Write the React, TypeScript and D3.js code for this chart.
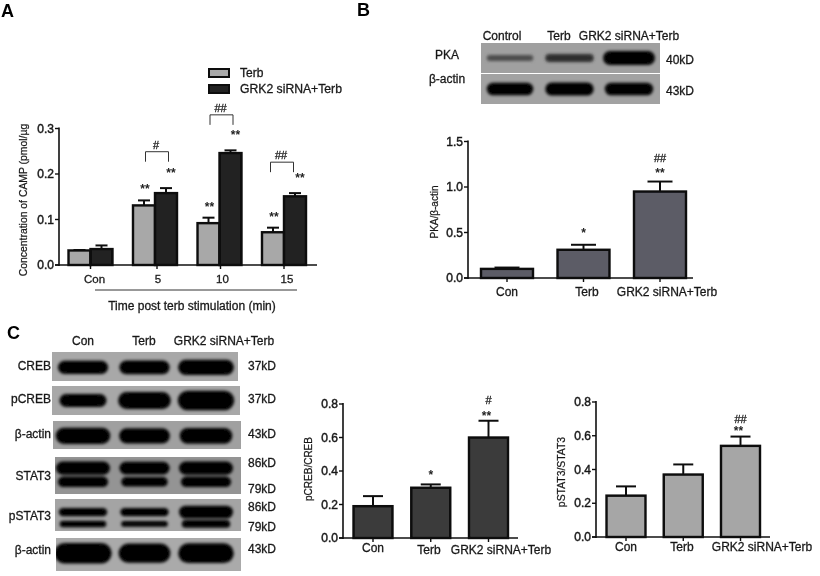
import React from "react";
import * as d3 from "d3";

const FONT = "'Liberation Sans', Arial, sans-serif";

// Panel A
const timeGroups = ["Con", "5", "10", "15"];
const terbValues = [0.032, 0.131, 0.092, 0.072];
const terbErrors = [0.001, 0.011, 0.012, 0.01];
const grkValues = [0.035, 0.158, 0.246, 0.151];
const grkErrors = [0.008, 0.011, 0.006, 0.007];
const ticksA = [0, 0.1, 0.2, 0.3];
const bracketValuesA = [0.249, 0.33, 0.226];
const bracketMarksA = ["#", "##", "##"];

// Panel B
const groupsB = ["Con", "Terb", "GRK2 siRNA+Terb"];
const pkaValues = [0.1, 0.31, 0.95];
const pkaErrors = [0.015, 0.055, 0.11];
const ticksB = [0, 0.5, 1, 1.5];

// Panel C
const pcrebValues = [0.19, 0.3, 0.6];
const pcrebErrors = [0.06, 0.02, 0.1];
const pstatValues = [0.245, 0.37, 0.54];
const pstatErrors = [0.055, 0.06, 0.055];
const ticksC = [0, 0.2, 0.4, 0.6, 0.8];

// Band densities per lane (0 = faint, 1 = black), thickness in relative units
const pkaBand = [0.45, 0.7, 1];
const pkaThick = [0.2, 0.26, 0.46];
const actinB = [1, 1, 1];
const actinBThick = [0.42, 0.44, 0.42];

const bgA = "#a2a2a2";

type Row = { at: number; dark: number[]; thick: number[]; wide: number[] };
const blotsC: { label: string; kd: string[]; bg: string; rows: Row[] }[] = [
  { label: "CREB", kd: ["37kD"], bg: "#a8a8a8", rows: [{ at: 0.53, dark: [1, 1, 1], thick: [0.46, 0.48, 0.52], wide: [0.27, 0.27, 0.3] }] },
  { label: "pCREB", kd: ["37kD"], bg: "#a8a8a8", rows: [{ at: 0.5, dark: [1, 1, 1], thick: [0.44, 0.58, 0.68], wide: [0.25, 0.28, 0.3] }] },
  { label: "β-actin", kd: ["43kD"], bg: "#a0a0a0", rows: [{ at: 0.53, dark: [1, 1, 1], thick: [0.58, 0.54, 0.56], wide: [0.29, 0.27, 0.28] }] },
  {
    label: "STAT3", kd: ["86kD", "79kD"], bg: "#949494", rows: [
      { at: 0.3, dark: [1, 1, 1], thick: [0.36, 0.34, 0.36], wide: [0.29, 0.27, 0.29] },
      { at: 0.67, dark: [1, 1, 1], thick: [0.28, 0.26, 0.28], wide: [0.27, 0.25, 0.27] },
    ],
  },
  {
    label: "pSTAT3", kd: ["86kD", "79kD"], bg: "#a4a4a4", rows: [
      { at: 0.41, dark: [1, 1, 1], thick: [0.26, 0.26, 0.4], wide: [0.26, 0.26, 0.29] },
      { at: 0.78, dark: [1, 1, 1], thick: [0.2, 0.18, 0.24], wide: [0.25, 0.25, 0.26] },
    ],
  },
  { label: "β-actin", kd: ["43kD"], bg: "#aaaaaa", rows: [{ at: 0.46, dark: [1, 1, 1], thick: [0.62, 0.58, 0.6], wide: [0.31, 0.28, 0.3] }] },
];

const bandColor = d3.scaleLinear<string>().domain([0, 1]).range(["#8a8a8a", "#050505"]);

function Blot({ x, y, w, h, bg, rows, lanes, id }: { x: number; y: number; w: number; h: number; bg: string; rows: Row[]; lanes: number[]; id: string }) {
  return (
    <g>
      <clipPath id={id}><rect x={x} y={y} width={w} height={h} /></clipPath>
      <rect x={x} y={y} width={w} height={h} fill={bg} />
      <g clipPath={`url(#${id})`}>
        <g filter="url(#bandBlur)">
          {rows.map((r, ri) =>
            lanes.map((cx, li) => {
              const bw = r.wide[li] * w;
              const bh = r.thick[li] * h;
              return (
                <rect key={`${ri}-${li}`} x={cx - bw / 2} y={y + r.at * h - bh / 2} width={bw} height={bh} rx={bh / 2} fill={bandColor(r.dark[li])} />
              );
            })
          )}
        </g>
      </g>
    </g>
  );
}

function Axes({ x0, x1, y, ticks, fmt, tickXs }: { x0: number; x1: number; y: d3.ScaleLinear<number, number>; ticks: number[]; fmt: (v: number) => string; tickXs: number[] }) {
  const base = y(0);
  return (
    <g>
      <line x1={x0} x2={x0} y1={y(ticks[ticks.length - 1]) - 1} y2={base + 1} stroke="#111" strokeWidth={1.6} />
      <line x1={x0 - 4} x2={x1} y1={base} y2={base} stroke="#111" strokeWidth={1.6} />
      {ticks.map((t) => (
        <g key={t}>
          <line x1={x0 - 4} x2={x0} y1={y(t)} y2={y(t)} stroke="#111" strokeWidth={1.4} />
          <text x={x0 - 5} y={y(t) + 4} textAnchor="end" fontSize={12} fill="#1a1a1a" stroke="#1a1a1a" strokeWidth={0.45}>{fmt(t)}</text>
        </g>
      ))}
      {tickXs.map((t) => (
        <line key={t} x1={t} x2={t} y1={base} y2={base + 4} stroke="#111" strokeWidth={1.4} />
      ))}
    </g>
  );
}

function Bar({ cx, w, y, value, err, fill, cap }: { cx: number; w: number; y: d3.ScaleLinear<number, number>; value: number; err: number; fill: string; cap: number }) {
  return (
    <g>
      <line x1={cx} x2={cx} y1={y(value)} y2={y(value + err)} stroke="#111" strokeWidth={2} />
      <line x1={cx - cap / 2} x2={cx + cap / 2} y1={y(value + err)} y2={y(value + err)} stroke="#111" strokeWidth={2} />
      <rect x={cx - w / 2} y={y(value)} width={w} height={y(0) - y(value)} fill={fill} stroke="#0a0a0a" strokeWidth={2.4} />
    </g>
  );
}

function Mark({ x, y, t, size = 12 }: { x: number; y: number; t: string; size?: number }) {
  return <text x={x} y={y} textAnchor="middle" fontSize={size} fontWeight={700} fill="#222">{t}</text>;
}

function Hash({ x, y, t }: { x: number; y: number; t: string }) {
  return <text x={x} y={y} textAnchor="middle" fontSize={11} fill="#222" stroke="#222" strokeWidth={0.3}>{t}</text>;
}

function Lbl({ x, y, t, size = 12, anchor = "middle" }: { x: number; y: number; t: string; size?: number; anchor?: string }) {
  return <text x={x} y={y} textAnchor={anchor as any} fontSize={size} fill="#1a1a1a" stroke="#1a1a1a" strokeWidth={0.3}>{t}</text>;
}

function YLabel({ x, y, t, size = 10 }: { x: number; y: number; t: string; size?: number }) {
  return <text transform={`translate(${x},${y}) rotate(-90)`} textAnchor="middle" fontSize={size} fill="#1a1a1a" stroke="#1a1a1a" strokeWidth={0.25}>{t}</text>;
}

export default function App() {
  const yA = d3.scaleLinear().domain([0, 0.3]).range([265, 128.5]);
  const xA = d3.scaleLinear().domain([0, 3]).range([90.5, 284]);
  const yB = d3.scaleLinear().domain([0, 1.5]).range([278, 141.5]);
  const xB = d3.scaleLinear().domain([0, 2]).range([507, 660]);
  const yC1 = d3.scaleLinear().domain([0, 0.8]).range([538, 404]);
  const xC1 = d3.scaleLinear().domain([0, 2]).range([373, 488.5]);
  const yC2 = d3.scaleLinear().domain([0, 0.8]).range([537, 402]);
  const xC2 = d3.scaleLinear().domain([0, 2]).range([626, 740.5]);

  const lanesC = d3.scaleLinear().domain([0, 2]).range([83, 206]);
  const lanesB = d3.scaleLinear().domain([0, 2]).range([510, 629]);
  const laneIdx = [0, 1, 2];

  const frames = [
    { x: 52, y: 352, w: 186, h: 29 },
    { x: 52, y: 386, w: 188, h: 29 },
    { x: 53, y: 421, w: 188, h: 28 },
    { x: 55, y: 457, w: 186, h: 37 },
    { x: 55, y: 499, w: 186, h: 32 },
    { x: 56, y: 538, w: 185, h: 33 },
  ];
  const labelYs = [370, 403, 438, 480, 520, 554];
  const kdYs = [[370], [403], [438], [467, 493], [511, 531], [553]];

  return (
    <svg width={820} height={576} style={{ position: "absolute", left: 0, top: 0, background: "#fff" }} fontFamily={FONT}>
      <defs>
        <filter id="bandBlur" x="-20%" y="-60%" width="140%" height="220%"><feGaussianBlur stdDeviation={1.5} /></filter>
        <filter id="soft" x="-2%" y="-2%" width="104%" height="104%"><feGaussianBlur stdDeviation={0.4} /></filter>
      </defs>
      <g filter="url(#soft)">
        <text x={1} y={17} fontSize={18} fontWeight={700} fill="#000">A</text>
        <text x={357} y={16} fontSize={18} fontWeight={700} fill="#000">B</text>
        <text x={7} y={339} fontSize={18} fontWeight={700} fill="#000">C</text>

        {/* Panel A */}
        <rect x={209} y={69} width={20} height={8} fill="#a8a8a8" stroke="#0a0a0a" strokeWidth={2} />
        <rect x={209} y={85} width={20} height={8} fill="#222" stroke="#0a0a0a" strokeWidth={2} />
        <Lbl x={240} y={77} t="Terb" anchor="start" />
        <Lbl x={240} y={93} t="GRK2 siRNA+Terb" anchor="start" size={12.2} />
        <Axes x0={59} x1={317} y={yA} ticks={ticksA} fmt={(v) => v.toFixed(1)} tickXs={timeGroups.map((_, i) => xA(i) + (i === 0 ? 0 : 3 - i))} />
        {timeGroups.map((g, i) => (
          <g key={g}>
            <Bar cx={xA(i) - 11} w={22} y={yA} value={terbValues[i]} err={terbErrors[i]} fill="#a8a8a8" cap={12} />
            <Bar cx={xA(i) + 11} w={22} y={yA} value={grkValues[i]} err={grkErrors[i]} fill="#222" cap={12} />
            {i > 0 && <Mark x={xA(i) - 10} y={yA(terbValues[i] + terbErrors[i]) - 7} t="**" />}
            {i > 0 && <Mark x={xA(i) + 16} y={yA(grkValues[i] + grkErrors[i]) - 11} t="**" />}
            <Lbl x={xA(i) + (i === 0 ? 4 : 3)} y={283} t={g} size={11.5} />
          </g>
        ))}
        {bracketValuesA.map((v, i) => {
          const c = xA(i + 1) + (i === 2 ? -2 : 2);
          const top = yA(v);
          return (
            <g key={i}>
              <path d={`M${c - 11.5},${top + 10} V${top} H${c + 11.5} V${top + 10}`} fill="none" stroke="#333" strokeWidth={1} />
              <Hash x={c - 1} y={top - 3} t={bracketMarksA[i]} />
            </g>
          );
        })}
        <line x1={95} x2={297} y1={290} y2={290} stroke="#333" strokeWidth={1} />
        <Lbl x={192} y={310} t="Time post terb stimulation (min)" />
        <YLabel x={27} y={200} t="Concentration of CAMP (pmol/µg" size={10.4} />

        {/* Panel B blots */}
        <Lbl x={502} y={40} t="Control" />
        <Lbl x={559} y={40} t="Terb" />
        <Lbl x={629} y={40} t="GRK2 siRNA+Terb" />
        <Lbl x={447} y={59} t="PKA" />
        <Lbl x={447} y={83} t="β-actin" />
        <Lbl x={666} y={64} t="40kD" anchor="start" />
        <Lbl x={666} y={95} t="43kD" anchor="start" />
        <Blot id="bp" x={481} y={43} w={179} h={30} bg="#a0a0a0" lanes={laneIdx.map((i) => lanesB(i))}
          rows={[{ at: 0.5, dark: pkaBand, thick: pkaThick, wide: [0.26, 0.27, 0.29] }]} />
        <Blot id="ba" x={481} y={74} w={179} h={30} bg={bgA} lanes={laneIdx.map((i) => lanesB(i))}
          rows={[{ at: 0.5, dark: actinB, thick: actinBThick, wide: [0.26, 0.27, 0.27] }]} />

        {/* Panel B chart */}
        <Axes x0={468} x1={693} y={yB} ticks={ticksB} fmt={(v) => v.toFixed(1)} tickXs={groupsB.map((_, i) => xB(i))} />
        {groupsB.map((g, i) => (
          <Bar key={g} cx={xB(i)} w={52} y={yB} value={pkaValues[i]} err={pkaErrors[i]} fill="#5c5c66" cap={25} />
        ))}
        {groupsB.map((g, i) => (
          <Lbl key={g} x={[507, 587, 667][i]} y={296} t={g} />
        ))}
        <Mark x={xB(1)} y={yB(pkaValues[1] + pkaErrors[1]) - 8} t="*" />
        <Mark x={xB(2)} y={yB(pkaValues[2] + pkaErrors[2]) - 5} t="**" />
        <Hash x={xB(2)} y={yB(pkaValues[2] + pkaErrors[2]) - 20} t="##" />
        <YLabel x={438} y={212} t="PKA/β-actin" size={10} />

        {/* Panel C blots */}
        <Lbl x={83} y={345} t="Con" />
        <Lbl x={144} y={345} t="Terb" />
        <Lbl x={224} y={345} t="GRK2 siRNA+Terb" />
        {blotsC.map((b, i) => (
          <g key={i}>
            <Blot id={`c${i}`} {...frames[i]} bg={b.bg} rows={b.rows} lanes={laneIdx.map((l) => lanesC(l))} />
            <Lbl x={51} y={labelYs[i]} t={b.label} anchor="end" />
            {b.kd.map((k, j) => (
              <Lbl key={j} x={248} y={kdYs[i][j]} t={k} anchor="start" />
            ))}
          </g>
        ))}

        {/* pCREB */}
        <Axes x0={343} x1={518} y={yC1} ticks={ticksC} fmt={(v) => v.toFixed(1)} tickXs={groupsB.map((_, i) => xC1(i))} />
        {groupsB.map((g, i) => (
          <Bar key={g} cx={xC1(i)} w={39} y={yC1} value={pcrebValues[i]} err={pcrebErrors[i]} fill="#3a3a3a" cap={20} />
        ))}
        {groupsB.map((g, i) => (
          <Lbl key={g} x={[373, 429, 501][i]} y={[552, 554, 554][i]} t={g} />
        ))}
        <Mark x={xC1(1)} y={yC1(pcrebValues[1] + pcrebErrors[1]) - 5} t="*" />
        <Mark x={xC1(2) - 2} y={yC1(pcrebValues[2] + pcrebErrors[2]) - 1} t="**" />
        <Hash x={xC1(2)} y={404} t="#" />
        <YLabel x={312} y={469} t="pCREB/CREB" size={10} />

        {/* pSTAT3 */}
        <Axes x0={596} x1={770} y={yC2} ticks={ticksC} fmt={(v) => v.toFixed(1)} tickXs={groupsB.map((_, i) => xC2(i))} />
        {groupsB.map((g, i) => (
          <Bar key={g} cx={xC2(i)} w={39} y={yC2} value={pstatValues[i]} err={pstatErrors[i]} fill="#a6a6a6" cap={20} />
        ))}
        {groupsB.map((g, i) => (
          <Lbl key={g} x={[626, 682, 762][i]} y={551} t={g} />
        ))}
        <Mark x={xC2(2) - 2} y={yC2(pstatValues[2] + pstatErrors[2]) - 2} t="**" />
        <Hash x={xC2(2)} y={yC2(pstatValues[2] + pstatErrors[2]) - 14} t="##" />
        <YLabel x={565} y={472} t="pSTAT3/STAT3" size={10.4} />
      </g>
    </svg>
  );
}
